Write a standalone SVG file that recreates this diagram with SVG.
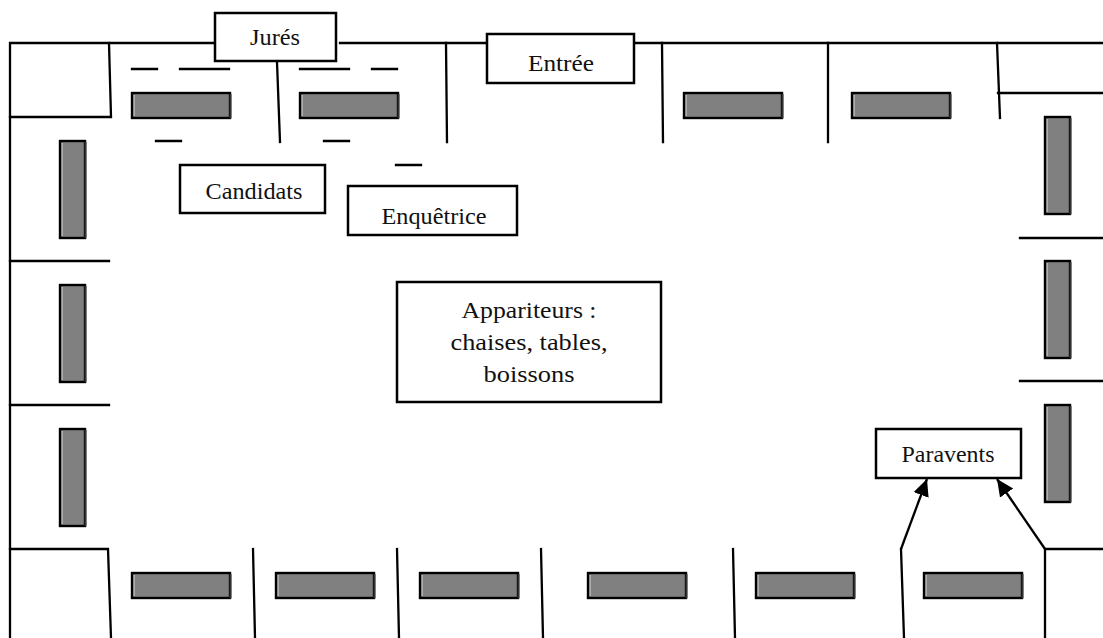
<svg xmlns="http://www.w3.org/2000/svg" width="1103" height="638" viewBox="0 0 1103 638">
<style>
.l{fill:none;stroke:#000;stroke-width:2.3;stroke-linecap:square}
.ar{fill:none;stroke:#000;stroke-width:2.3}
.b{fill:#fff;stroke:#000;stroke-width:2.5}
.t{fill:#808080;stroke:#000;stroke-width:2.4}
text{font-family:"Liberation Serif","Times New Roman",serif;font-size:24px;fill:#111;text-anchor:middle}
</style>
<defs>
<marker id="a" markerUnits="userSpaceOnUse" markerWidth="20" markerHeight="20" refX="17" refY="8" orient="auto"><path d="M0 0L17 8L0 16Z" fill="#000"/></marker>
<g id="h"><rect class="t" x="0" y="0" width="98" height="25"/><path d="M98.5 1V25" stroke="#333" stroke-width="2"/><path d="M2.2 2V23" stroke="#bbb" stroke-width="1.2"/></g>
<g id="v"><rect class="t" x="0" y="0" width="25" height="97"/><path d="M25.5 1V97" stroke="#333" stroke-width="2"/><path d="M2.2 2V95" stroke="#bbb" stroke-width="1.2"/></g>
</defs>
<g id="connectors">
<path class="l" d="M217 43H10V638M340 43H489M636 43H1103"/>
<path class="l" d="M109 43L111 117H10M277 62L280 142M446 43L447 142M662 43L663 142M828 43V142M997 43L1000 118M998 93H1103"/>
<path class="l" d="M10 261H109M10 405H109M1020 238H1103M1020 381H1103"/>
<path class="l" d="M10 549H108L111 638M253 549L255 638M397 549L399 638M541 549L543 638M733 549L735 638M901 549L904 638M1045 549V638M1045 549H1103"/>
<path class="l" d="M132 69H157M180 69H229M300 69H349M372 69H397M156 141H181M324 141H349M396 165H421"/>
<path class="ar" marker-end="url(#a)" d="M901 549L927 479"/>
<path class="ar" marker-end="url(#a)" d="M1045 549L997 479"/>
</g>
<g id="tables">
<use href="#h" x="132" y="93"/><use href="#h" x="300" y="93"/><use href="#h" x="684" y="93"/><use href="#h" x="852" y="93"/>
<use href="#h" x="132" y="573"/><use href="#h" x="276" y="573"/><use href="#h" x="420" y="573"/><use href="#h" x="588" y="573"/><use href="#h" x="756" y="573"/><use href="#h" x="924" y="573"/>
<use href="#v" x="60" y="141"/><use href="#v" x="60" y="285"/><use href="#v" x="60" y="429"/>
<use href="#v" x="1045" y="117"/><use href="#v" x="1045" y="261"/><use href="#v" x="1045" y="405"/>
</g>
<g id="jures"><rect class="b" x="215" y="13" width="121" height="48"/><text x="275" y="45" textLength="50" lengthAdjust="spacingAndGlyphs">Jurés</text></g>
<g id="entree"><rect class="b" x="487" y="34" width="147" height="49"/><text x="561" y="71" textLength="66" lengthAdjust="spacingAndGlyphs">Entrée</text></g>
<g id="candidats"><rect class="b" x="180" y="165" width="145" height="48"/><text x="254" y="199" textLength="97" lengthAdjust="spacingAndGlyphs">Candidats</text></g>
<g id="enquetrice"><rect class="b" x="348" y="186" width="169" height="49"/><text x="434" y="224" textLength="105" lengthAdjust="spacingAndGlyphs">Enquêtrice</text></g>
<g id="appariteurs"><rect class="b" x="397" y="282" width="264" height="120"/><text x="529" y="318" textLength="135" lengthAdjust="spacingAndGlyphs">Appariteurs :</text><text x="529" y="350" textLength="157" lengthAdjust="spacingAndGlyphs">chaises, tables,</text><text x="529" y="382" textLength="91" lengthAdjust="spacingAndGlyphs">boissons</text></g>
<g id="paravents"><rect class="b" x="876" y="429" width="145" height="49"/><text x="948" y="462" textLength="93" lengthAdjust="spacingAndGlyphs">Paravents</text></g>
</svg>
